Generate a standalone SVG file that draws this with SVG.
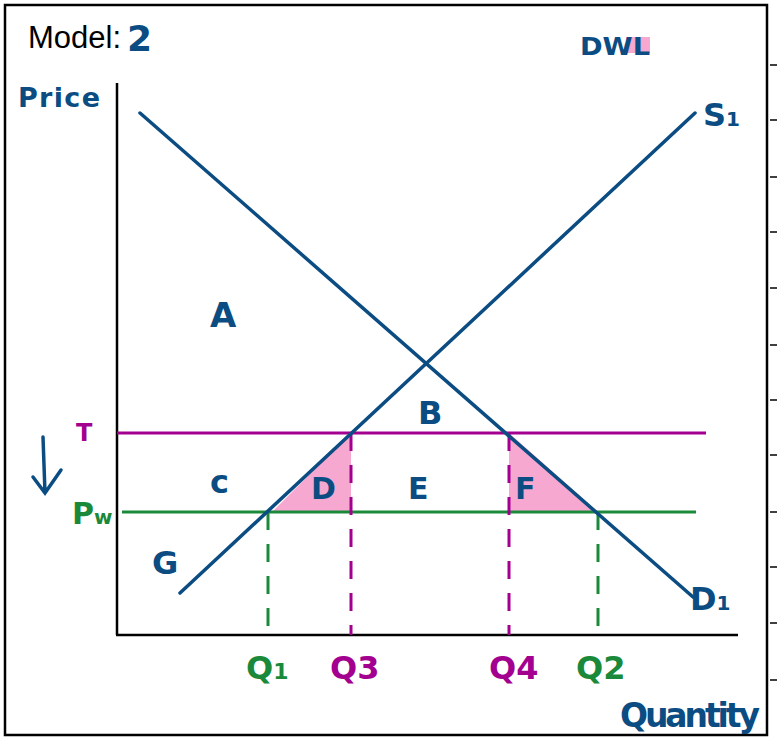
<svg xmlns="http://www.w3.org/2000/svg" width="777" height="750" viewBox="0 0 777 750">
<style>
.hw{font-family:"DejaVu Sans","Liberation Sans",sans-serif;font-weight:bold}
.b{fill:#0b4c82}.p{fill:#a3008f}.g{fill:#1a8a3a}
.curve{stroke:#0b4c82;stroke-width:3.5;fill:none;stroke-linecap:round}
.tick{stroke:#000;stroke-width:1.5}
</style>
<rect width="777" height="750" fill="#fff"/>
<rect x="5" y="5" width="762" height="730" fill="none" stroke="#000" stroke-width="2.5"/>
<g id="ticks" class="tick">
<line x1="770" y1="65" x2="777" y2="65"/><line x1="770" y1="120" x2="777" y2="120"/><line x1="770" y1="177" x2="777" y2="177"/><line x1="770" y1="232" x2="777" y2="232"/><line x1="770" y1="288" x2="777" y2="288"/><line x1="770" y1="345" x2="777" y2="345"/><line x1="770" y1="400" x2="777" y2="400"/><line x1="770" y1="455" x2="777" y2="455"/><line x1="770" y1="512" x2="777" y2="512"/><line x1="770" y1="567" x2="777" y2="567"/><line x1="770" y1="623" x2="777" y2="623"/><line x1="770" y1="680" x2="777" y2="680"/>
</g>
<g id="areas" fill="#f7a8d0">
<polygon points="272,512 351,433 351,512"/>
<polygon points="509,433 509,512 598,512"/>
<rect x="626" y="37" width="24" height="16"/>
</g>
<g id="connectors">
<line x1="117" y1="83" x2="117" y2="635" stroke="#000" stroke-width="2.5"/>
<line x1="116" y1="635" x2="738" y2="635" stroke="#000" stroke-width="2.5"/>
<line x1="117" y1="433" x2="706" y2="433" stroke="#a3008f" stroke-width="3"/>
<line x1="122" y1="512" x2="696" y2="512" stroke="#1a8a3a" stroke-width="3"/>
<g stroke-width="3" stroke-dasharray="18,14">
<line x1="268" y1="512" x2="268" y2="635" stroke="#1a8a3a"/>
<line x1="598" y1="512" x2="598" y2="635" stroke="#1a8a3a"/>
<line x1="351" y1="433" x2="351" y2="635" stroke="#a3008f"/>
<line x1="509" y1="433" x2="509" y2="635" stroke="#a3008f"/>
</g>
<line class="curve" x1="140" y1="113" x2="693" y2="597"/>
<line class="curve" x1="180" y1="593" x2="695" y2="113"/>
<path class="curve" d="M43,437 L45,493 M33,477 L45,493 L61,470" stroke-width="6"/>
</g>
<g id="labels">
<text x="28" y="48" font-family="Liberation Sans,Arial,sans-serif" font-size="31" fill="#000">Model:</text>
<text x="127" y="51" class="hw b" font-size="36">2</text>
<text x="580" y="55" class="hw b" font-size="24" textLength="70" lengthAdjust="spacingAndGlyphs">DWL</text>
<text x="18" y="107" class="hw b" font-size="27" textLength="82">Price</text>
<text x="703" y="126" class="hw b" font-size="32">S<tspan font-size="20">1</tspan></text>
<text x="210" y="327" class="hw b" font-size="34">A</text>
<text x="418" y="424" class="hw b" font-size="32">B</text>
<text x="210" y="493" class="hw b" font-size="32">c</text>
<text x="311" y="499" class="hw b" font-size="30">D</text>
<text x="408" y="499" class="hw b" font-size="30">E</text>
<text x="515" y="499" class="hw b" font-size="30">F</text>
<text x="152" y="574" class="hw b" font-size="32">G</text>
<text x="76" y="441" class="hw p" font-size="24">T</text>
<text x="72" y="524" class="hw g" font-size="30">P<tspan font-size="20">w</tspan></text>
<text x="690" y="610" class="hw b" font-size="32">D<tspan font-size="20">1</tspan></text>
<text x="246" y="679" class="hw g" font-size="32">Q<tspan font-size="22">1</tspan></text>
<text x="330" y="679" class="hw p" font-size="32">Q3</text>
<text x="489" y="679" class="hw p" font-size="32">Q4</text>
<text x="576" y="679" class="hw g" font-size="32">Q2</text>
<text x="620" y="727" class="hw b" font-size="33" textLength="140">Quantity</text>
</g>
</svg>
